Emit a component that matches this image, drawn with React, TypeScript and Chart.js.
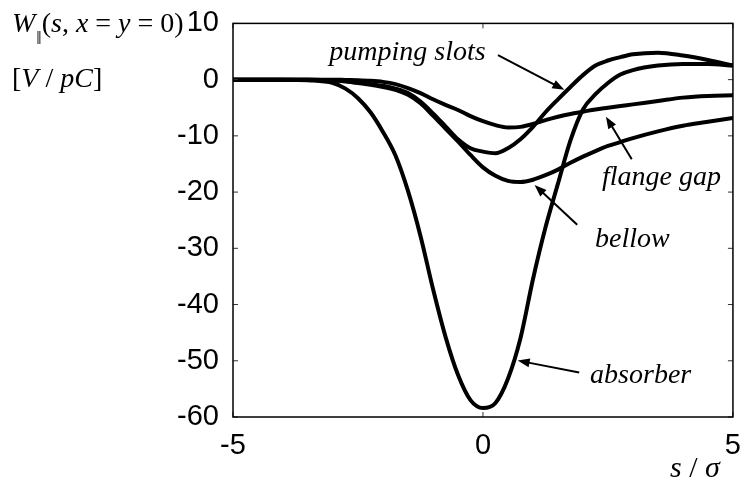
import React, { useEffect, useRef } from "react";
import { Chart, registerables } from "chart.js";

Chart.register(...registerables);

// s / sigma sample positions
const sValues = [-5, -4.5, -4, -3.5, -3, -2.75, -2.5, -2.25, -2, -1.75, -1.5, -1.25, -1, -0.75, -0.5, -0.25, 0, 0.25, 0.5, 0.75, 1, 1.25, 1.5, 1.75, 2, 2.25, 2.5, 2.75, 3, 3.5, 4, 4.5, 5];

const absorber = [0, 0, 0, -0.1, -0.6, -1.6, -3.3, -5.8, -9.3, -13.5, -19.8, -27.8, -37.2, -45.7, -52.5, -57.0, -58.4, -57.5, -53.2, -46.0, -35.5, -26.3, -18.5, -10.8, -5.3, -2.6, -0.6, 0.9, 1.7, 2.5, 2.8, 2.8, 2.5];

const pumpingSlots = [0, 0, 0, 0, -0.1, -0.3, -0.5, -0.8, -1.1, -1.6, -2.4, -3.9, -6.0, -8.3, -10.6, -12.2, -12.8, -13.1, -12.2, -10.6, -8.4, -5.8, -3.5, -1.3, 0.8, 2.5, 3.4, 4.0, 4.5, 4.8, 4.3, 3.5, 2.5];

const bellow = [0, 0, 0, 0, -0.1, -0.3, -0.6, -0.9, -1.3, -1.8, -2.7, -4.2, -6.4, -8.7, -11.0, -13.4, -15.6, -17.1, -18.0, -18.2, -17.8, -17.0, -16.0, -14.8, -13.7, -12.7, -11.8, -11.1, -10.4, -9.2, -8.2, -7.5, -6.8];

const flangeGap = [0, 0, 0, 0, 0, -0.05, -0.1, -0.2, -0.4, -0.8, -1.5, -2.4, -3.5, -4.5, -5.4, -6.5, -7.4, -8.1, -8.5, -8.4, -7.9, -7.2, -6.6, -6.1, -5.7, -5.3, -5.0, -4.7, -4.4, -3.8, -3.2, -2.9, -2.8];

const xTicks = [-5, 0, 5];
const yTicks = [-60, -50, -40, -30, -20, -10, 0, 10];

// annotation labels: text baseline-left at (tx, ty), arrow from (ax0, ay0) to tip (ax1, ay1), all in data units
const annotations = [
  { text: "pumping slots", tx: -3.075, ty: 3.47, ax0: 0.3, ay0: 4.36, ax1: 1.627, ay1: -1.82 },
  { text: "flange gap", tx: 2.381, ty: -18.75, ax0: 2.976, ay0: -14.16, ax1: 2.46, ay1: -6.58 },
  { text: "bellow", tx: 2.242, ty: -29.68, ax0: 1.885, ay0: -25.8, ax1: 1.032, ay1: -18.75 },
  { text: "absorber", tx: 2.143, ty: -54.02, ax0: 1.925, ay0: -52.08, ax1: 0.694, ay1: -49.96 },
];

const SANS = "'Liberation Sans', Arial, sans-serif";
const SERIF = "'Liberation Serif', 'Times New Roman', serif";

type Run = { t: string; it?: boolean; sub?: boolean };

function drawRuns(ctx: CanvasRenderingContext2D, runs: Run[], x: number, y: number, size: number) {
  let cx = x;
  for (const r of runs) {
    if (r.sub) {
      ctx.font = `${Math.round(size * 0.68)}px ${SERIF}, 'DejaVu Serif'`;
      ctx.fillText(r.t, cx + 1, y + size * 0.42);
      cx += ctx.measureText(r.t).width + 1;
    } else {
      ctx.font = `${r.it ? "italic " : ""}${size}px ${SERIF}`;
      ctx.fillText(r.t, cx, y);
      cx += ctx.measureText(r.t).width;
    }
  }
}

const decorPlugin = {
  id: "decor",
  afterDraw(chart: any) {
    const { ctx, chartArea: a, scales } = chart;
    const x = scales.x;
    const y = scales.y;
    ctx.save();
    // tick marks inside the box
    ctx.strokeStyle = "#333";
    ctx.lineWidth = 1;
    const seg = (x0: number, y0: number, x1: number, y1: number) => {
      ctx.beginPath();
      ctx.moveTo(x0, y0);
      ctx.lineTo(x1, y1);
      ctx.stroke();
    };
    for (const v of yTicks) {
      const py = y.getPixelForValue(v);
      seg(a.left, py, a.left + 5, py);
      seg(a.right, py, a.right - 5, py);
    }
    for (const v of xTicks) {
      const px = x.getPixelForValue(v);
      seg(px, a.bottom, px, a.bottom - 5);
      seg(px, a.top, px, a.top + 5);
    }
    // box
    ctx.strokeStyle = "#000";
    ctx.lineWidth = 1.5;
    ctx.strokeRect(a.left, a.top, a.right - a.left, a.bottom - a.top);

    // annotations
    ctx.fillStyle = "#000";
    ctx.textAlign = "left";
    ctx.textBaseline = "alphabetic";
    for (const an of annotations) {
      ctx.font = `italic 28px ${SERIF}`;
      ctx.fillText(an.text, x.getPixelForValue(an.tx), y.getPixelForValue(an.ty));
      const x0 = x.getPixelForValue(an.ax0);
      const y0 = y.getPixelForValue(an.ay0);
      const x1 = x.getPixelForValue(an.ax1);
      const y1 = y.getPixelForValue(an.ay1);
      const ang = Math.atan2(y1 - y0, x1 - x0);
      const hl = 12;
      const hw = 4.5;
      ctx.strokeStyle = "#000";
      ctx.lineWidth = 2;
      seg(x0, y0, x1 - Math.cos(ang) * hl * 0.8, y1 - Math.sin(ang) * hl * 0.8);
      ctx.beginPath();
      ctx.moveTo(x1, y1);
      ctx.lineTo(x1 - Math.cos(ang) * hl - Math.sin(ang) * hw, y1 - Math.sin(ang) * hl + Math.cos(ang) * hw);
      ctx.lineTo(x1 - Math.cos(ang) * hl + Math.sin(ang) * hw, y1 - Math.sin(ang) * hl - Math.cos(ang) * hw);
      ctx.closePath();
      ctx.fill();
    }

    // y-axis title
    drawRuns(ctx, [
      { t: "W", it: true },
      { t: "\u2016", sub: true },
      { t: "(" },
      { t: "s", it: true },
      { t: ", " },
      { t: "x", it: true },
      { t: " = " },
      { t: "y", it: true },
      { t: " = " },
      { t: "0)" },
    ], 12, 32, 28);
    drawRuns(ctx, [
      { t: "[" },
      { t: "V", it: true },
      { t: " / " },
      { t: "pC", it: true },
      { t: "]" },
    ], 12, 87, 28);
    // x-axis title
    drawRuns(ctx, [
      { t: "s", it: true },
      { t: " / " },
      { t: "\u03c3", it: true },
    ], 670, 477, 30);
    ctx.restore();
  },
};

export default function App() {
  const ref = useRef<HTMLCanvasElement | null>(null);

  useEffect(() => {
    if (!ref.current) return;
    const mk = (vals: number[]) => sValues.map((s, i) => ({ x: s, y: vals[i] }));
    const common = {
      borderColor: "#000",
      backgroundColor: "#000",
      borderWidth: 4,
      pointRadius: 0,
      fill: false,
      cubicInterpolationMode: "monotone" as const,
      borderJoinStyle: "round" as const,
      borderCapStyle: "round" as const,
    };
    const chart = new Chart(ref.current, {
      type: "line",
      data: {
        datasets: [
          { label: "flange gap", data: mk(flangeGap), ...common },
          { label: "bellow", data: mk(bellow), ...common },
          { label: "pumping slots", data: mk(pumpingSlots), ...common },
          { label: "absorber", data: mk(absorber), ...common },
        ],
      },
      options: {
        animation: false,
        responsive: false,
        events: [],
        layout: { padding: { left: 0, right: 8, top: 20, bottom: 0 } },
        plugins: { legend: { display: false }, tooltip: { enabled: false }, title: { display: false } },
        scales: {
          x: {
            type: "linear",
            min: -5,
            max: 5,
            afterBuildTicks: (s: any) => {
              s.ticks = xTicks.map((v) => ({ value: v }));
            },
            afterFit: (s: any) => {
              s.height = 72;
            },
            ticks: { color: "#000", font: { family: SANS, size: 29 }, padding: 4, maxRotation: 0, autoSkip: false },
            grid: { display: false },
            border: { display: false },
          },
          y: {
            type: "linear",
            min: -60,
            max: 10,
            afterBuildTicks: (s: any) => {
              s.ticks = yTicks.map((v) => ({ value: v }));
            },
            afterFit: (s: any) => {
              s.width = 233;
            },
            ticks: { color: "#000", font: { family: SANS, size: 29 }, padding: 6, autoSkip: false },
            grid: { display: false },
            border: { display: false },
          },
        },
      },
      plugins: [decorPlugin],
    } as any);
    return () => chart.destroy();
  }, []);

  return (
    <div style={{ position: "absolute", left: 0, top: 0, width: 745, height: 489, background: "#fff" }}>
      <canvas ref={ref} width={745} height={489} style={{ display: "block" }} />
    </div>
  );
}
